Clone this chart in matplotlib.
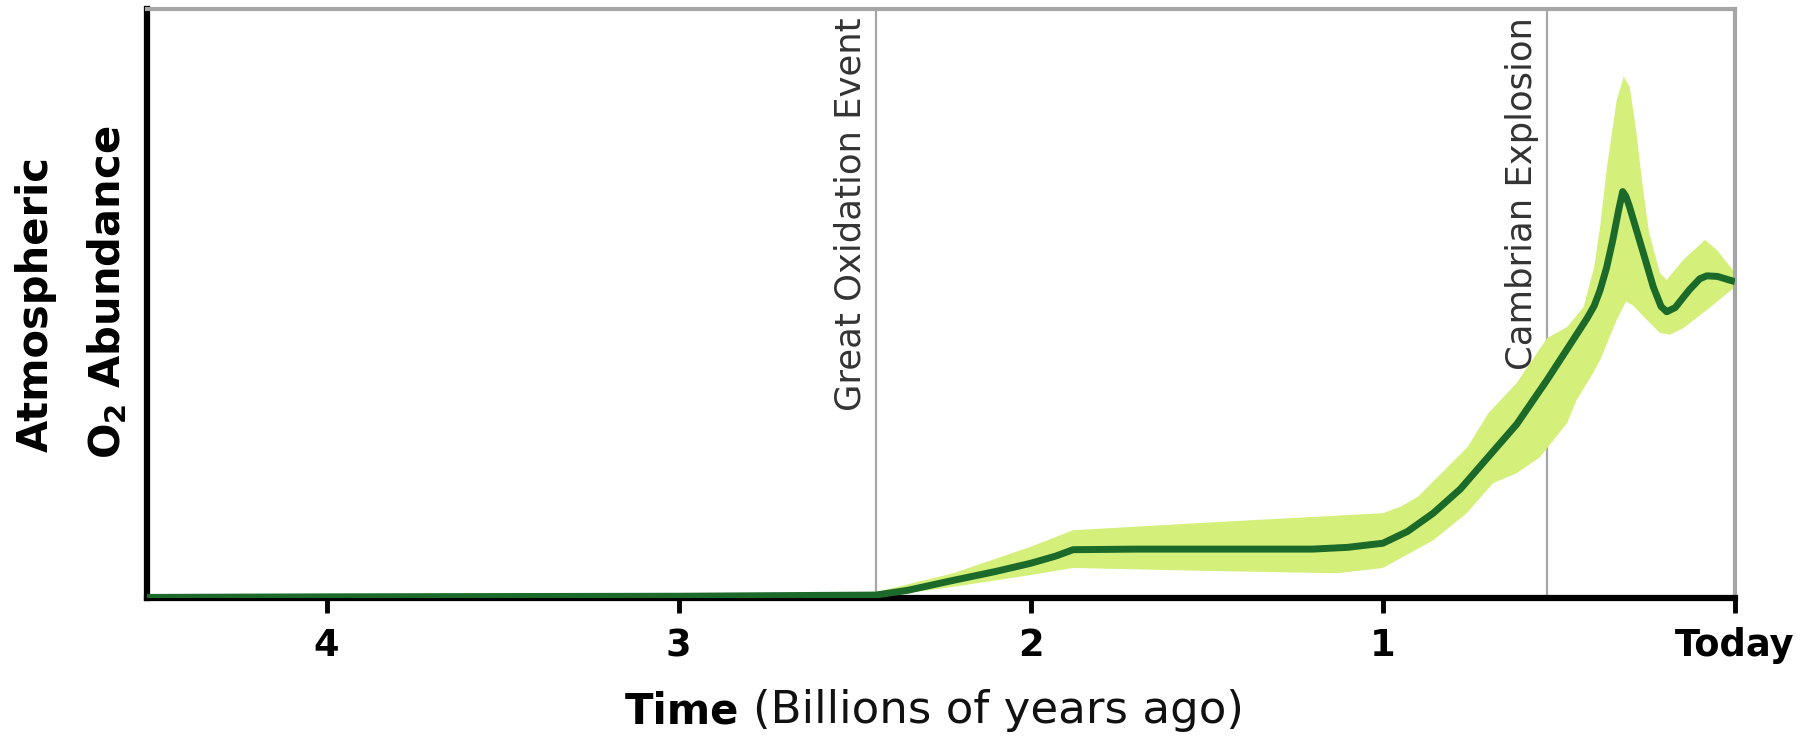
import numpy as np
import matplotlib
matplotlib.use("Agg")
import matplotlib.pyplot as plt

plt.rcParams["mathtext.fontset"] = "dejavusans"

# billions of years ago -> relative O2 level (0-100)
mid_x = [4.51, 4.0, 3.0, 2.44, 2.35, 2.22, 2.1, 2.0, 1.93, 1.88, 1.7, 1.4, 1.2, 1.1,
         1.0, 0.93, 0.857, 0.78, 0.716, 0.62, 0.534, 0.46, 0.42, 0.40, 0.383, 0.365,
         0.347, 0.33, 0.319, 0.31, 0.30, 0.28, 0.26, 0.232, 0.21, 0.194, 0.17, 0.13,
         0.10, 0.08, 0.05, 0.0]
mid_y = [0.1, 0.2, 0.3, 0.5, 1.3, 3.0, 4.5, 5.9, 7.1, 8.2, 8.3, 8.3, 8.3, 8.6,
         9.3, 11.3, 14.4, 18.5, 22.9, 29.5, 37.0, 43.8, 47.5, 49.6, 52.3, 56.0,
         60.8, 66.0, 69.0, 68.2, 66.5, 62.5, 58.5, 52.8, 49.5, 48.6, 49.3, 52.3,
         54.2, 54.7, 54.6, 53.7]

hi_x = [4.51, 3.0, 2.44, 2.22, 2.0, 1.88, 1.5, 1.0, 0.95, 0.90, 0.76, 0.70, 0.62,
        0.534, 0.477, 0.43, 0.40, 0.383, 0.364, 0.336, 0.316, 0.299, 0.28, 0.262,
        0.244, 0.213, 0.194, 0.147, 0.085, 0.05, 0.0]
hi_y = [0.5, 0.7, 1.0, 4.2, 8.7, 11.5, 12.8, 14.4, 15.5, 17.2, 25.6, 31.4, 36.5,
        44.1, 46.0, 49.4, 56.2, 63.0, 73.0, 84.5, 88.5, 86.8, 79.0, 69.8,
        62.0, 55.2, 54.0, 57.4, 60.8, 59.0, 55.2]

lo_x = [4.51, 2.44, 2.22, 2.0, 1.88, 1.5, 1.13, 1.0, 0.857, 0.762, 0.687, 0.62,
        0.554, 0.477, 0.45, 0.40, 0.383, 0.336, 0.31, 0.29, 0.25, 0.213, 0.185,
        0.147, 0.08, 0.0]
lo_y = [0.0, 0.1, 1.9, 3.9, 5.1, 4.6, 4.2, 5.1, 9.8, 14.4, 19.5, 21.2,
        23.9, 29.7, 33.6, 38.5, 40.4, 47.2, 50.3, 49.7, 47.2, 45.0, 44.7,
        45.8, 48.9, 52.8]

events = [("Great Oxidation Event", 2.44), ("Cambrian Explosion", 0.534)]
tick_pos = [4, 3, 2, 1, 0]
tick_lbl = ["4", "3", "2", "1", "Today"]

heavy = ["DejaVu Sans"]

fig = plt.figure(figsize=(18.05, 7.37), dpi=100)
ax = fig.add_axes([147 / 1805, 1 - 598 / 737, (1735 - 147) / 1805, (598 - 9) / 737])

ax.fill(np.r_[hi_x, lo_x[::-1]], np.r_[hi_y, lo_y[::-1]], color="#d4f07a", lw=0, zorder=2)
ax.plot(mid_x, mid_y, color="#1b6a2a", lw=5, solid_joinstyle="round",
        solid_capstyle="butt", zorder=3)

for name, x in events:
    ax.axvline(x, color="#a6a6a6", lw=1.6, zorder=1)
    ax.annotate(name, (x, 100), xytext=(-6, -6), textcoords="offset points",
                rotation=90, ha="right", va="top", fontsize=25.5,
                family="DejaVu Sans", color="#333333", zorder=4)

ax.set_xlim(4.51, 0)
ax.set_ylim(0, 100)
ax.set_yticks([])
ax.set_xticks(tick_pos)
ax.set_xticklabels(tick_lbl, family=heavy, fontweight="bold", fontsize=26.5)
ax.tick_params(axis="x", direction="out", length=11, width=3.5, pad=10, color="black")

for s in ["left", "bottom"]:
    ax.spines[s].set_color("black")
    ax.spines[s].set_linewidth(4.5)
for s in ["top", "right"]:
    ax.spines[s].set_color("#a6a6a6")
    ax.spines[s].set_linewidth(3)

# y label, two rotated lines
fig.text(36 / 1805, 1 - 304 / 737, "Atmospheric", rotation=90, ha="center", va="center",
         family=heavy, fontweight="bold", fontsize=30)
fig.text(107 / 1805, 1 - 292 / 737, r"$\mathbf{O_2}$ Abundance", rotation=90, ha="center",
         va="center", family=heavy, fontweight="bold", fontsize=30)

# x label: bold word followed by lighter note
t1 = fig.text(625 / 1805, 1 - 723 / 737, "Time", ha="left", va="baseline",
              family=heavy, fontweight="bold", fontsize=30)
fig.canvas.draw()
bb = t1.get_window_extent()
fig.text((bb.x1 + 14) / 1805, 1 - 723 / 737, "(Billions of years ago)", ha="left",
         va="baseline", family="DejaVu Sans", fontsize=32.5, color="#111111")

fig.savefig("out.png", dpi=100)
